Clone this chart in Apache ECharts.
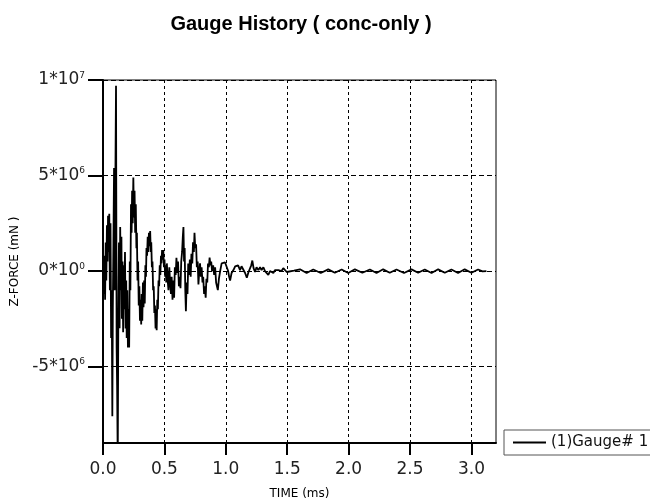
<!DOCTYPE html>
<html>
<head>
<meta charset="utf-8">
<script src="https://cdn.jsdelivr.net/npm/echarts@6/dist/echarts.min.js"></script>
<style>html,body{margin:0;padding:0;background:#fff}#c{width:650px;height:502px}</style>
</head>
<body>
<div id="c"></div>
<script>
// ---- data ----
const timeMs = [
  0.002, 0.007, 0.012, 0.017, 0.022, 0.027, 0.032, 0.037, 0.041, 0.046,
  0.051, 0.056, 0.061, 0.066, 0.071, 0.076, 0.080, 0.085, 0.090, 0.095,
  0.100, 0.106, 0.111, 0.115, 0.120, 0.125, 0.130, 0.135, 0.140, 0.145,
  0.150, 0.154, 0.159, 0.164, 0.169, 0.174, 0.179, 0.184, 0.189, 0.193,
  0.198, 0.203, 0.208, 0.213, 0.218, 0.223, 0.228, 0.233, 0.237, 0.242,
  0.247, 0.252, 0.257, 0.262, 0.267, 0.272, 0.276, 0.281, 0.286, 0.291,
  0.296, 0.301, 0.306, 0.311, 0.315, 0.320, 0.325, 0.330, 0.335, 0.340,
  0.345, 0.350, 0.354, 0.359, 0.364, 0.369, 0.374, 0.379, 0.384, 0.389,
  0.393, 0.398, 0.403, 0.408, 0.413, 0.418, 0.423, 0.428, 0.433, 0.437,
  0.442, 0.447, 0.452, 0.457, 0.462, 0.467, 0.472, 0.476, 0.481, 0.486,
  0.491, 0.496, 0.501, 0.506, 0.511, 0.515, 0.520, 0.527, 0.533, 0.540,
  0.546, 0.553, 0.559, 0.566, 0.572, 0.579, 0.585, 0.592, 0.598, 0.605,
  0.611, 0.618, 0.624, 0.631, 0.637, 0.644, 0.650, 0.655, 0.660, 0.665,
  0.670, 0.675, 0.681, 0.688, 0.694, 0.701, 0.707, 0.714, 0.720, 0.727,
  0.733, 0.740, 0.745, 0.751, 0.758, 0.764, 0.771, 0.777, 0.784, 0.790,
  0.797, 0.803, 0.810, 0.816, 0.823, 0.829, 0.836, 0.842, 0.849, 0.855,
  0.862, 0.868, 0.875, 0.881, 0.888, 0.897, 0.905, 0.913, 0.921, 0.935,
  0.944, 0.954, 0.966, 0.980, 0.994, 1.008, 1.019, 1.027, 1.035, 1.047,
  1.062, 1.076, 1.089, 1.100, 1.116, 1.128, 1.143, 1.157, 1.171, 1.185,
  1.198, 1.207, 1.216, 1.226, 1.238, 1.250, 1.265, 1.279, 1.291, 1.306,
  1.319, 1.333, 1.346, 1.360, 1.372, 1.387, 1.400, 1.415, 1.428, 1.441,
  1.454, 1.468, 1.482, 1.496, 1.509, 1.555, 1.604, 1.658, 1.712, 1.773,
  1.834, 1.888, 1.943, 1.997, 2.051, 2.112, 2.173, 2.227, 2.281, 2.335,
  2.390, 2.451, 2.512, 2.566, 2.620, 2.675, 2.729, 2.783, 2.837, 2.891,
  2.945, 3.000, 3.054, 3.090, 3.122
];
const forceMn = [
  0, -1.2e6, 0.8e6, -1.5e6, 1.5e6, -0.5e6, 2.4e6, 0.5e6, 2.9e6, 1.0e6,
  3.0e6, -1.0e6, 2.5e6, -3.5e6, -1.0e6, -7.6e6, -2.0e6, 1.5e6, 5.4e6, -1.0e6,
  4.0e6, 9.7e6, -4.0e6, -6.0e6, -1.0e7, -2.0e6, 1.5e6, -3.0e6, 2.3e6, -1.0e6,
  1.8e6, -2.5e6, 0.5e6, -3.2e6, 0.3e6, -2.0e6, 1.0e6, -3.0e6, -0.5e6, -3.5e6,
  -1.0e6, -4.0e6, -2.0e6, -4.0e6, 0.5e6, -1.0e6, 3.5e6, 2.0e6, 4.2e6, 2.5e6,
  4.9e6, 2.8e6, 4.2e6, 2.0e6, 3.5e6, 1.2e6, 2.0e6, -0.5e6, 0.5e6, -1.8e6,
  -0.8e6, -2.6e6, -1.5e6, -2.8e6, -1.2e6, -2.6e6, -0.6e6, -1.9e6, -0.5e6, -1.7e6,
  0.3e6, -0.3e6, 1.2e6, 0.8e6, 1.8e6, 1.0e6, 2.0e6, 1.3e6, 2.1e6, 1.0e6,
  1.5e6, 0.2e6, 0.5e6, -1.0e6, -0.8e6, -2.2e6, -1.8e6, -3.0e6, -2.0e6, -3.1e6,
  -1.5e6, -2.0e6, -0.5e6, -0.8e6, 0.3e6, -0.2e6, 0.8e6, 0.4e6, 1.1e6, 0.6e6,
  1.1e6, 0.2e6, 0.6e6, -0.3e6, 0.3e6, -0.6e6, 0.4e6, -0.5e6, -1.0e6, 0.2e6,
  -0.6e6, -1.2e6, -0.3e6, -1.5e6, -0.5e6, -1.4e6, 0.2e6, -0.2e6, 0.7e6, -0.1e6,
  0.5e6, -0.8e6, -0.3e6, -0.9e6, 0.5e6, 1.0e6, 1.8e6, 2.3e6, 0.5e6, 1.2e6,
  -1.0e6, -2.1e6, -0.6e6, -1.2e6, 0.4e6, -0.2e6, 0.6e6, -0.3e6, 0.9e6, 0.4e6,
  1.5e6, 1.0e6, 2.0e6, 1.2e6, 1.4e6, 0.2e6, 0.5e6, -0.7e6, 0, 0.4e6,
  -0.3e6, 0.2e6, -0.6e6, -0.3e6, -1.2e6, -0.8e6, -1.4e6, -0.4e6, -0.6e6, 0.4e6,
  0.2e6, 0.7e6, 0.3e6, 0.5e6, 0, 0.3e6, -0.2e6, 0.2e6, -0.6e6, -1.0e6,
  -0.4e6, 0, 0.4e6, 0.3e6, 0.45e6, 0.2e6, 0, -0.3e6, -0.5e6, -0.1e6,
  0.05e6, 0.25e6, 0.15e6, 0.3e6, 0.05e6, 0.25e6, 0.15e6, -0.1e6, -0.35e6, -0.05e6,
  0, 0.3e6, 0.55e6, 0.15e6, -0.05e6, 0.2e6, 0.05e6, 0.2e6, 0.05e6, 0.2e6,
  0, -0.1e6, -0.2e6, 0, -0.1e6, -0.1e6, 0.05e6, -0.05e6, 0.05e6, 0.1e6,
  0, 0.15e6, 0.05e6, -0.05e6, -0.1e6, 0.02e6, 0.09e6, -0.10e6, 0.08e6, -0.10e6,
  0.09e6, -0.09e6, 0.08e6, -0.10e6, 0.09e6, -0.09e6, 0.08e6, -0.10e6, 0.09e6, -0.09e6,
  0.08e6, -0.10e6, 0.09e6, -0.09e6, 0.08e6, -0.10e6, 0.09e6, -0.09e6, 0.08e6, -0.10e6,
  0.09e6, -0.09e6, 0.08e6, -0.02e6, 0
];
const xTickValues = [0, 0.5, 1.0, 1.5, 2.0, 2.5, 3.0];
const yTickValues = [-5e6, 0, 5e6, 1e7];
const yTickMantissa = ['-5', '0', '5', '1'];
const yTickExponent = ['6', '0', '6', '7'];
const seriesName = '(1)Gauge# 1';
const titleText = 'Gauge History ( conc-only )';
const xName = 'TIME (ms)';
const yName = 'Z-FORCE (mN )';

const chart = echarts.init(document.getElementById('c'), null, {renderer: 'canvas'});
const FONT = 'DejaVu Sans';
chart.setOption({
  animation: false,
  backgroundColor: '#fff',
  title: {
    text: titleText,
    left: 296, top: 9, textAlign: 'center',
    textStyle: {fontFamily: 'Liberation Sans', fontWeight: 'bold', fontSize: 20, color: '#000'}
  },
  legend: {
    data: [{name: seriesName, icon: 'rect'}],
    left: 504, top: 430,
    padding: [5, 20, 5, 9],
    itemWidth: 33, itemHeight: 2,
    borderColor: '#555', borderWidth: 1,
    textStyle: {fontFamily: FONT, fontSize: 15, color: '#111'}
  },
  grid: {
    left: 103, right: 154, top: 80, bottom: 59,
    outerBoundsMode: 'none', containLabel: false,
    show: true, borderColor: '#000', borderWidth: 1, backgroundColor: 'transparent'
  },
  xAxis: {
    type: 'value', min: 0, max: 3.2,
    name: xName, nameLocation: 'middle', nameGap: 45,
    nameTextStyle: {fontFamily: FONT, fontSize: 12, color: '#000'},
    axisLine: {show: true, onZero: false, lineStyle: {color: '#000', width: 2}},
    axisTick: {show: true, inside: false, length: 12, customValues: xTickValues, lineStyle: {color: '#000', width: 2}},
    axisLabel: {customValues: xTickValues, margin: 18, fontFamily: FONT, fontSize: 17, color: '#222',
      formatter: v => v.toFixed(1)},
    splitLine: {show: true, lineStyle: {color: '#000', width: 1, type: [3, 3]}}
  },
  yAxis: {
    type: 'value', min: -9e6, max: 1e7,
    name: yName, nameLocation: 'middle', nameGap: 73, nameRotate: 90,
    nameTextStyle: {fontFamily: FONT, fontSize: 12, color: '#000'},
    axisLine: {show: true, onZero: false, lineStyle: {color: '#000', width: 2}},
    axisTick: {show: true, inside: false, length: 15, customValues: yTickValues, lineStyle: {color: '#000', width: 2}},
    axisLabel: {
      customValues: yTickValues, margin: 18, color: '#222',
      formatter: v => {
        const i = yTickValues.indexOf(v);
        if (i < 0) return '';
        return '{b|' + yTickMantissa[i] + '*10}{s|' + yTickExponent[i] + '}';
      },
      rich: {
        b: {fontFamily: FONT, fontSize: 17, color: '#222', lineHeight: 18},
        s: {fontFamily: FONT, fontSize: 9, color: '#222', lineHeight: 9, verticalAlign: 'top'}
      }
    },
    splitLine: {show: true, lineStyle: {color: '#000', width: 1, type: [5, 3]}}
  },
  series: [{
    name: seriesName,
    type: 'line',
    data: timeMs.map((t, i) => [t, forceMn[i]]),
    symbol: 'none',
    clip: true,
    itemStyle: {color: '#000'},
    lineStyle: {color: '#000', width: 1.8}
  }]
});
</script>
</body>
</html>
